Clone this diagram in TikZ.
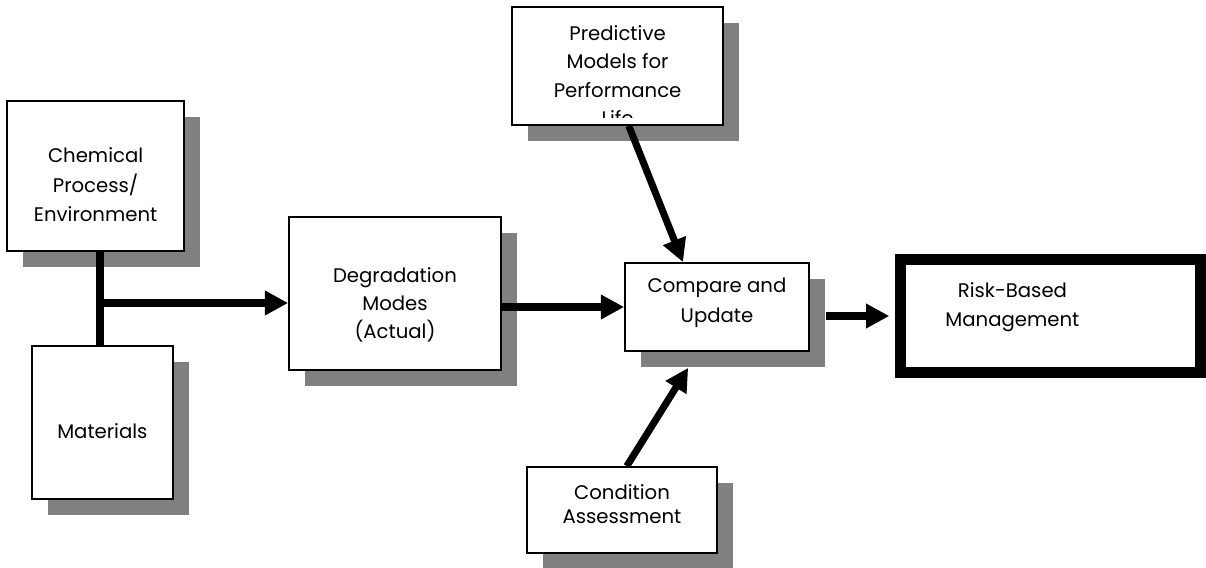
\documentclass[tikz,border=0pt]{standalone}
\usepackage{fontspec}
\setmainfont{Poppins}
\usepackage{tikz}
\usetikzlibrary{arrows.meta, shadows, positioning}

\begin{document}
\begin{tikzpicture}[
  every node/.style={font=\fontsize{14}{21}\selectfont},
  box/.style={draw, fill=white, line width=1.2pt, inner sep=0pt,
              drop shadow={shadow xshift=0.4cm, shadow yshift=-0.4cm,
                           fill=black!50, opacity=1}},
  txt/.style={align=center},
  arrow/.style={-{Triangle[length=0.58cm, width=0.58cm]}, line width=5pt}
]
  \useasboundingbox (0,0) rectangle (30.15,-14.2);

  % Inputs
  \node[box, minimum width=4.425cm, minimum height=3.75cm] (chem) at (2.39,-4.4) {};
  \node[txt] (chemtxt) at ([yshift=-0.22cm]chem.center) {Chemical\\Process/\\Environment};
  \node[box, minimum width=3.525cm, minimum height=3.825cm] (mat) at (2.56,-10.56) {};
  \node[txt] (mattxt) at ([yshift=-0.21cm]mat.center) {Materials};

  % Degradation
  \node[box, minimum width=5.3cm, minimum height=3.825cm] (degr) at (9.875,-7.34) {};
  \node[txt, font=\fontsize{14}{20}\selectfont] (degrtxt) at ([yshift=-0.29cm]degr.center)
    {Degradation\\Modes\\(Actual)};

  % Compare
  \node[box, minimum width=4.6cm, minimum height=2.2cm] (comp) at (17.925,-7.675) {};
  \node[txt] (comptxt) at ([yshift=0.1cm]comp.center) {Compare and\\Update};

  % Predictive models (text runs past the box)
  \node[box, minimum width=5.275cm, minimum height=2.95cm] (pred) at (15.44,-1.65) {};
  \begin{scope}
    \clip ([yshift=0.2cm]pred.south west) rectangle (pred.north east);
    \node[txt, below, font=\fontsize{14}{20.3}\selectfont] (predtxt)
      at ([yshift=-0.35cm]pred.north) {Predictive\\Models for\\Performance\\Life};
  \end{scope}

  % Condition
  \node[box, minimum width=4.75cm, minimum height=2.15cm] (cond) at (15.55,-12.75) {};
  \node[txt, font=\fontsize{14}{16.5}\selectfont] (condtxt) at ([yshift=0.15cm]cond.center)
    {Condition\\Assessment};

  % Output
  \node[draw, line width=7.8pt, minimum width=7.5cm, minimum height=2.84cm] (risk)
    at (26.26,-7.9) {};
  \node[txt] (risktxt) at ([xshift=-0.95cm, yshift=0.22cm]risk.center)
    {Risk-Based\\Management};

  % Arrows
  \coordinate (junc) at (2.5,-7.575);
  \draw[line width=5pt] (junc |- chem.south) -- (junc |- mat.north);
  \draw[arrow] (junc) -- (junc -| degr.west);
  \draw[arrow] (degr.east |- comp.west) -- (comp.west);
  \draw[arrow, shorten >=0.14cm] ([xshift=0.4cm]comp.east |- risk.west) -- (risk.west);
  \draw[arrow] ([xshift=0.28cm]pred.south) -- ([xshift=-0.85cm]comp.north);
  \draw[arrow] ([xshift=0.12cm]cond.north) -- ([xshift=-0.72cm, yshift=-0.4cm]comp.south);
\end{tikzpicture}
\end{document}
